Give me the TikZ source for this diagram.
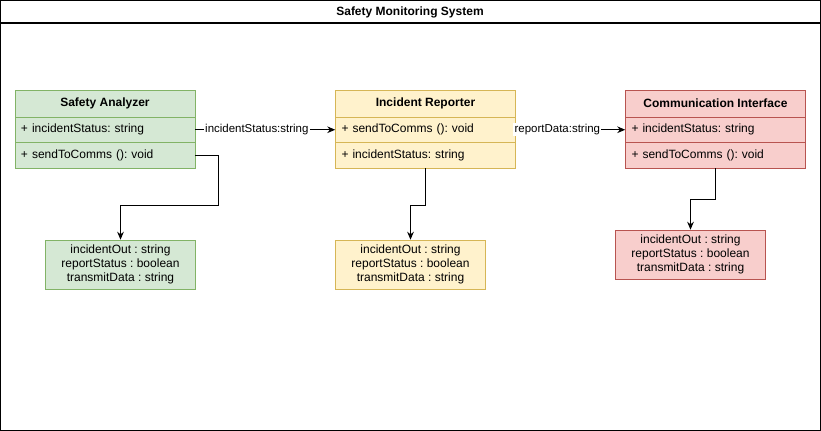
\documentclass[tikz,border=0pt]{standalone}
\usepackage{fontspec}
\setmainfont{Liberation Sans}
\usetikzlibrary{arrows.meta}
\frenchspacing
\definecolor{sagreen}{HTML}{D5E8D4}
\definecolor{sagreenline}{HTML}{82B366}
\definecolor{iryellow}{HTML}{FFF2CC}
\definecolor{iryellowline}{HTML}{D6B656}
\definecolor{cired}{HTML}{F8CECC}
\definecolor{ciredline}{HTML}{B85450}
\tikzset{classhead/.style={rectangle,draw,minimum width=135pt,minimum height=20.25pt,
		inner sep=0pt,font=\fontsize{9}{10.5}\selectfont\bfseries},
	member/.style={rectangle,draw,minimum width=135pt,minimum height=19.125pt,
		inner xsep=4.5pt,inner ysep=0pt,text width=126pt,align=left,
		font=\fontsize{9}{10.5}\selectfont\frenchspacing},
	varbox/.style={rectangle,draw,minimum width=112.5pt,minimum height=36.75pt,
		inner sep=0pt,align=center,font=\fontsize{9}{10.5}\selectfont},
	flow/.style={-{Stealth[length=6pt,width=5pt]},line width=0.8pt},
	flowlabel/.style={fill=white,inner sep=1pt,font=\fontsize{8.6}{10}\selectfont}}
\begin{document}
\begin{tikzpicture}[x=0.75pt,y=-0.75pt]
		\useasboundingbox (0,0) rectangle (821,431);
		\draw[line width=0.9pt] (0.5,0.5) rectangle (820.5,430.5);
		\draw[line width=0.9pt] (0.5,23) -- (820.5,23);
		\node[font=\fontsize{9}{10.5}\selectfont\bfseries] (title) at (410,12) {Safety Monitoring System};
		
		% Safety Analyzer
		\node[classhead,fill=sagreen,draw=sagreenline] (saHead) at (105,103.5) {Safety Analyzer};
		\node[member,fill=sagreen,draw=sagreenline] (saA) at (105,129.75) {+ incidentStatus: string};
		\node[member,fill=sagreen,draw=sagreenline] (saB) at (105,155.25) {+ sendToComms (): void};
		\node[varbox,fill=sagreen,draw=sagreenline] (saOut) at (120.5,264.5) {incidentOut : string\\reportStatus : boolean\\transmitData : string};
		
		% Incident Reporter
		\node[classhead,fill=iryellow,draw=iryellowline] (irHead) at (425.5,103.5) {Incident Reporter};
		\node[member,fill=iryellow,draw=iryellowline] (irA) at (425.5,129.75) {+ sendToComms (): void};
		\node[member,fill=iryellow,draw=iryellowline] (irB) at (425.5,155.25) {+ incidentStatus: string};
		\node[varbox,fill=iryellow,draw=iryellowline] (irOut) at (410.5,264.5) {incidentOut : string\\reportStatus : boolean\\transmitData : string};
		
		% Communication Interface
		\node[classhead,fill=cired,draw=ciredline] (ciHead) at (715.5,103.5) {Communication Interface};
		\node[member,fill=cired,draw=ciredline] (ciA) at (715.5,129.75) {+ incidentStatus: string};
		\node[member,fill=cired,draw=ciredline] (ciB) at (715.5,155.25) {+ sendToComms (): void};
		\node[varbox,fill=cired,draw=ciredline] (ciOut) at (690.5,254.5) {incidentOut : string\\reportStatus : boolean\\transmitData : string};
		
		\draw[flow] (saA.east) -- node[flowlabel,pos=0.44] {incidentStatus:string} (irA.west);
		\draw[flow] (irA.east) -- node[flowlabel,pos=0.38] {reportData:string} (ciA.west);
		
		\draw[flow] (saB.east) -- ++(23,0) -- ++(0,50) -| (saOut.north);
		\draw[flow] (irB.south) -- ++(0,37) -| (irOut.north);
		\draw[flow] (ciB.south) -- ++(0,31) -| (ciOut.north);
		
\end{tikzpicture}
\end{document}
